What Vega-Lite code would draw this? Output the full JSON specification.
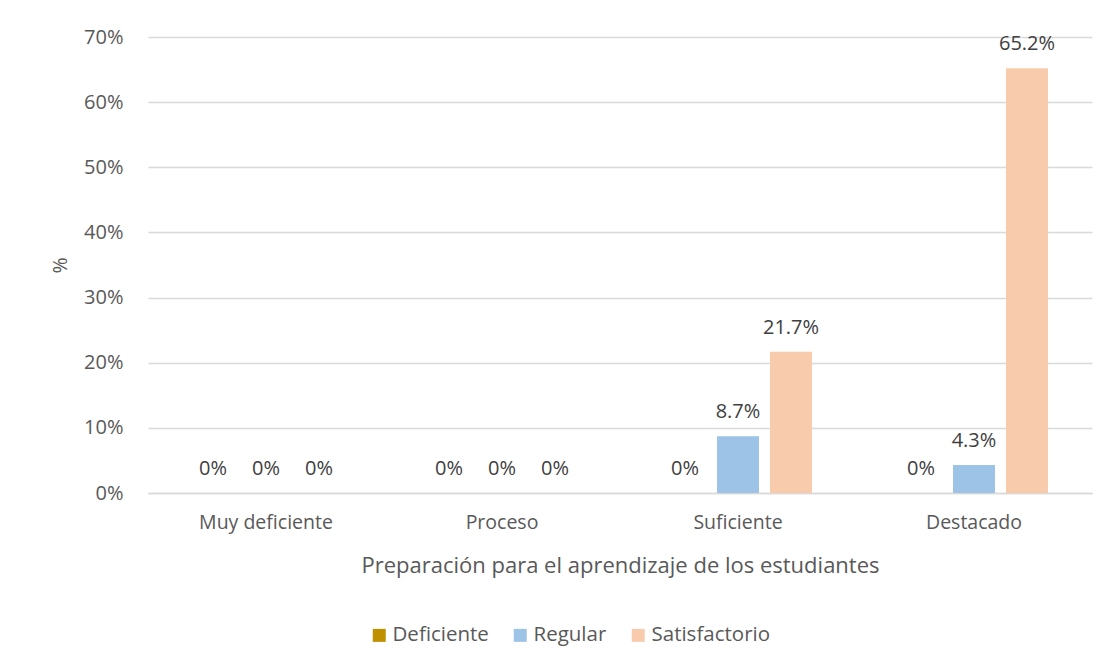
{
  "$schema": "https://vega.github.io/schema/vega-lite/v6.json",
  "width": 944,
  "height": 456,
  "autosize": {"type": "none"},
  "padding": {"left": 148, "top": 37, "right": 26, "bottom": 175},
  "background": "white",
  "config": {
    "font": "Open Sans",
    "view": {"stroke": null}
  },
  "data": {
    "values": [
      {"nivel": "Muy deficiente", "grupo": "Deficiente", "valor": 0},
      {"nivel": "Muy deficiente", "grupo": "Regular", "valor": 0},
      {"nivel": "Muy deficiente", "grupo": "Satisfactorio", "valor": 0},
      {"nivel": "Proceso", "grupo": "Deficiente", "valor": 0},
      {"nivel": "Proceso", "grupo": "Regular", "valor": 0},
      {"nivel": "Proceso", "grupo": "Satisfactorio", "valor": 0},
      {"nivel": "Suficiente", "grupo": "Deficiente", "valor": 0},
      {"nivel": "Suficiente", "grupo": "Regular", "valor": 0.087},
      {"nivel": "Suficiente", "grupo": "Satisfactorio", "valor": 0.217},
      {"nivel": "Destacado", "grupo": "Deficiente", "valor": 0},
      {"nivel": "Destacado", "grupo": "Regular", "valor": 0.043},
      {"nivel": "Destacado", "grupo": "Satisfactorio", "valor": 0.652}
    ]
  },
  "encoding": {
    "x": {
      "field": "nivel",
      "type": "nominal",
      "sort": ["Muy deficiente", "Proceso", "Suficiente", "Destacado"],
      "scale": {"paddingInner": 0.373, "paddingOuter": 0.1865},
      "axis": {
        "title": "Preparación para el aprendizaje de los estudiantes",
        "titleFontSize": 22,
        "titleFontWeight": "normal",
        "titleColor": "#595959",
        "titlePadding": 24,
        "labelAngle": 0,
        "labelFontSize": 19.5,
        "labelColor": "#595959",
        "labelPadding": 20,
        "ticks": false,
        "domainColor": "#d9d9d9",
        "domainWidth": 1.5,
        "grid": false
      }
    },
    "xOffset": {
      "field": "grupo",
      "type": "nominal",
      "sort": ["Deficiente", "Regular", "Satisfactorio"],
      "scale": {"paddingInner": 0.2075, "paddingOuter": 0}
    },
    "y": {
      "field": "valor",
      "type": "quantitative",
      "scale": {"domain": [0, 0.7], "nice": false},
      "axis": {
        "title": "%",
        "titleFontSize": 19.5,
        "titleFontWeight": "normal",
        "titleColor": "#595959",
        "titlePadding": 13,
        "format": ".0%",
        "values": [0, 0.1, 0.2, 0.3, 0.4, 0.5, 0.6, 0.7],
        "labelFontSize": 20,
        "labelColor": "#595959",
        "labelPadding": 25,
        "ticks": false,
        "domain": false,
        "gridColor": "#d9d9d9",
        "gridWidth": 1.5
      }
    }
  },
  "layer": [
    {
      "mark": {"type": "bar"},
      "encoding": {
        "color": {
          "field": "grupo",
          "type": "nominal",
          "sort": ["Deficiente", "Regular", "Satisfactorio"],
          "scale": {
            "domain": ["Deficiente", "Regular", "Satisfactorio"],
            "range": ["#BF9000", "#9DC3E6", "#F8CBAD"]
          },
          "legend": {
            "title": null,
            "orient": "none",
            "direction": "horizontal",
            "legendX": 221,
            "legendY": 588,
            "symbolType": "square",
            "symbolSize": 169,
            "symbolStrokeWidth": 0,
            "symbolOpacity": 1,
            "labelFontSize": 20.5,
            "labelColor": "#595959",
            "labelOffset": 3,
            "columnPadding": 21
          }
        }
      }
    },
    {
      "mark": {"type": "text", "baseline": "middle", "dy": -24, "fontSize": 20, "color": "#404040"},
      "encoding": {
        "text": {"field": "valor", "type": "quantitative", "format": ".1~%"}
      }
    }
  ]
}
